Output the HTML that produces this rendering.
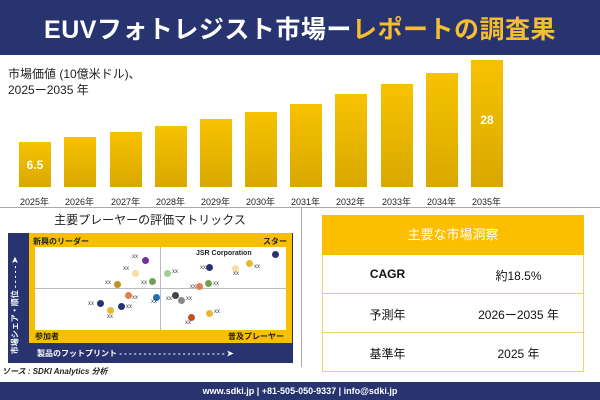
<!DOCTYPE html>
<html><head><meta charset="utf-8"><style>
body{margin:0;width:600px;height:400px;overflow:hidden;background:#fff;font-family:"Liberation Sans","Noto Sans CJK JP",sans-serif;position:relative}
.a{position:absolute}
.bar{position:absolute;width:32px;background:linear-gradient(#f7c200,#d9a800)}
.yl{position:absolute;top:195px;font-size:9px;color:#222;width:45px;text-align:center}
.row{position:absolute;left:322px;width:262px;height:38px;border-bottom:1px solid #f0d070;font-size:12px;color:#111}
.row span{position:absolute;top:12px;width:131px;text-align:center}
.d{position:absolute;width:7px;height:7px;border-radius:50%}
.x{position:absolute;font-size:6px;color:#444}
</style></head><body>
<div class="a" style="left:0;top:0;width:600px;height:55px;background:#283470"></div>
<div class="a" style="left:0;top:10px;width:600px;text-align:center;font-size:25px;font-weight:bold;color:#fff;letter-spacing:0.5px">EUVフォトレジスト市場ー<span style="color:#f5bd30">レポートの調査果</span></div>
<div class="a" style="left:8px;top:66px;font-size:12px;color:#222;line-height:16px">市場価値 (10億米ドル)、<br>2025ー2035 年</div>
<div class="bar" style="left:19px;top:142px;height:45px"></div>
<div class="bar" style="left:64px;top:137px;height:50px"></div>
<div class="bar" style="left:110px;top:132px;height:55px"></div>
<div class="bar" style="left:155px;top:126px;height:61px"></div>
<div class="bar" style="left:200px;top:119px;height:68px"></div>
<div class="bar" style="left:245px;top:112px;height:75px"></div>
<div class="bar" style="left:290px;top:104px;height:83px"></div>
<div class="bar" style="left:335px;top:94px;height:93px"></div>
<div class="bar" style="left:381px;top:84px;height:103px"></div>
<div class="bar" style="left:426px;top:73px;height:114px"></div>
<div class="bar" style="left:471px;top:60px;height:127px"></div>
<div class="a" style="left:19px;top:158px;width:32px;text-align:center;color:#fff;font-weight:bold;font-size:12px">6.5</div>
<div class="a" style="left:471px;top:113px;width:32px;text-align:center;color:#fff;font-weight:bold;font-size:12px">28</div>
<div class="yl" style="left:12px">2025年</div><div class="yl" style="left:57px">2026年</div><div class="yl" style="left:103px">2027年</div><div class="yl" style="left:148px">2028年</div><div class="yl" style="left:193px">2029年</div><div class="yl" style="left:238px">2030年</div><div class="yl" style="left:283px">2031年</div><div class="yl" style="left:328px">2032年</div><div class="yl" style="left:374px">2033年</div><div class="yl" style="left:419px">2034年</div><div class="yl" style="left:464px">2035年</div>
<div class="a" style="left:0;top:207px;width:600px;height:1px;background:#aaa"></div>
<div class="a" style="left:301px;top:207px;width:1px;height:160px;background:#aaa"></div>
<div class="a" style="left:0;top:211px;width:300px;text-align:center;font-size:12px;color:#222">主要プレーヤーの評価マトリックス</div>
<div class="a" style="left:8px;top:233px;width:285px;height:130px;background:#283470"></div>
<div class="a" style="left:29px;top:233px;width:263px;height:110px;background:#f8bf00"></div>
<div class="a" style="left:35px;top:247px;width:251px;height:83px;background:#fff"></div>
<div class="a" style="left:160px;top:247px;width:1px;height:83px;background:#bbb"></div>
<div class="a" style="left:35px;top:288px;width:251px;height:1px;background:#bbb"></div>
<div class="a" style="left:33px;top:236px;font-size:8px;font-weight:bold;color:#222">新興のリーダー</div>
<div class="a" style="left:263px;top:236px;font-size:8px;font-weight:bold;color:#222">スター</div>
<div class="a" style="left:35px;top:331px;font-size:8px;font-weight:bold;color:#222">参加者</div>
<div class="a" style="left:228px;top:331px;font-size:8px;font-weight:bold;color:#222">普及プレーヤー</div>
<div class="a" style="left:37px;top:348px;font-size:8px;font-weight:bold;color:#fff">製品のフットプリント - - - - - - - - - - - - - - - - - - - - - - ➤</div>
<div class="a" style="left:5px;top:300px;font-size:8px;font-weight:bold;color:#fff;transform:rotate(-90deg);transform-origin:center;white-space:nowrap;width:120px;margin-left:-50px;text-align:center">市場シェア・順位 - - - - - ➤</div>
<div class="a" style="left:196px;top:250px;font-size:7px;font-weight:bold;color:#222">JSR Corporation</div>
<div class="d" style="left:272px;top:251px;background:#283470"></div>
<div class="d" style="left:246px;top:260px;background:#e8b830"></div><div class="x" style="left:254px;top:264px">xx</div>
<div class="d" style="left:232px;top:265px;background:#f5e0a0"></div><div class="x" style="left:233px;top:271px">xx</div>
<div class="d" style="left:206px;top:264px;background:#283470"></div><div class="x" style="left:200px;top:265px">xx</div>
<div class="d" style="left:164px;top:270px;background:#a0d090"></div><div class="x" style="left:172px;top:269px">xx</div>
<div class="d" style="left:205px;top:280px;background:#70a050"></div><div class="x" style="left:213px;top:281px">xx</div>
<div class="d" style="left:196px;top:283px;background:#e08050"></div><div class="x" style="left:190px;top:284px">xx</div>
<div class="d" style="left:142px;top:257px;background:#7030a0"></div><div class="x" style="left:132px;top:254px">xx</div>
<div class="d" style="left:132px;top:270px;background:#f5e0a0"></div><div class="x" style="left:123px;top:266px">xx</div>
<div class="d" style="left:149px;top:278px;background:#70a050"></div><div class="x" style="left:141px;top:280px">xx</div>
<div class="d" style="left:114px;top:281px;background:#c09020"></div><div class="x" style="left:105px;top:280px">xx</div>
<div class="d" style="left:125px;top:292px;background:#e08050"></div><div class="x" style="left:132px;top:295px">xx</div>
<div class="d" style="left:153px;top:294px;background:#2070b0"></div><div class="x" style="left:151px;top:299px">xx</div>
<div class="d" style="left:172px;top:292px;background:#444"></div><div class="x" style="left:166px;top:296px">xx</div>
<div class="d" style="left:178px;top:297px;background:#888"></div><div class="x" style="left:186px;top:296px">xx</div>
<div class="d" style="left:97px;top:300px;background:#283470"></div><div class="x" style="left:88px;top:301px">xx</div>
<div class="d" style="left:118px;top:303px;background:#283470"></div><div class="x" style="left:126px;top:304px">xx</div>
<div class="d" style="left:107px;top:307px;background:#e8b830"></div><div class="x" style="left:107px;top:314px">xx</div>
<div class="d" style="left:206px;top:310px;background:#e8b830"></div><div class="x" style="left:214px;top:309px">xx</div>
<div class="d" style="left:188px;top:314px;background:#c05020"></div><div class="x" style="left:185px;top:320px">xx</div>
<div class="a" style="left:2px;top:366px;font-size:8px;font-style:italic;font-weight:bold;color:#222">ソース : SDKI Analytics 分析</div>
<div class="a" style="left:322px;top:215px;width:262px;height:40px;background:#fbbf00;color:#fff;font-size:13px;text-align:center;line-height:40px">主要な市場洞察</div>
<div class="a" style="left:322px;top:255px;width:1px;height:116px;background:#f0d070"></div>
<div class="a" style="left:583px;top:255px;width:1px;height:116px;background:#f0d070"></div>
<div class="row" style="top:255px"><span style="left:0;font-weight:bold">CAGR</span><span style="left:131px">約18.5%</span></div>
<div class="row" style="top:294px"><span style="left:0">予測年</span><span style="left:131px">2026ー2035 年</span></div>
<div class="row" style="top:333px"><span style="left:0">基準年</span><span style="left:131px">2025 年</span></div>
<div class="a" style="left:0;top:382px;width:600px;height:18px;background:#283470;color:#fff;font-size:9px;font-weight:bold;text-align:center;line-height:18px">www.sdki.jp | +81-505-050-9337 | info@sdki.jp</div>
</body></html>
